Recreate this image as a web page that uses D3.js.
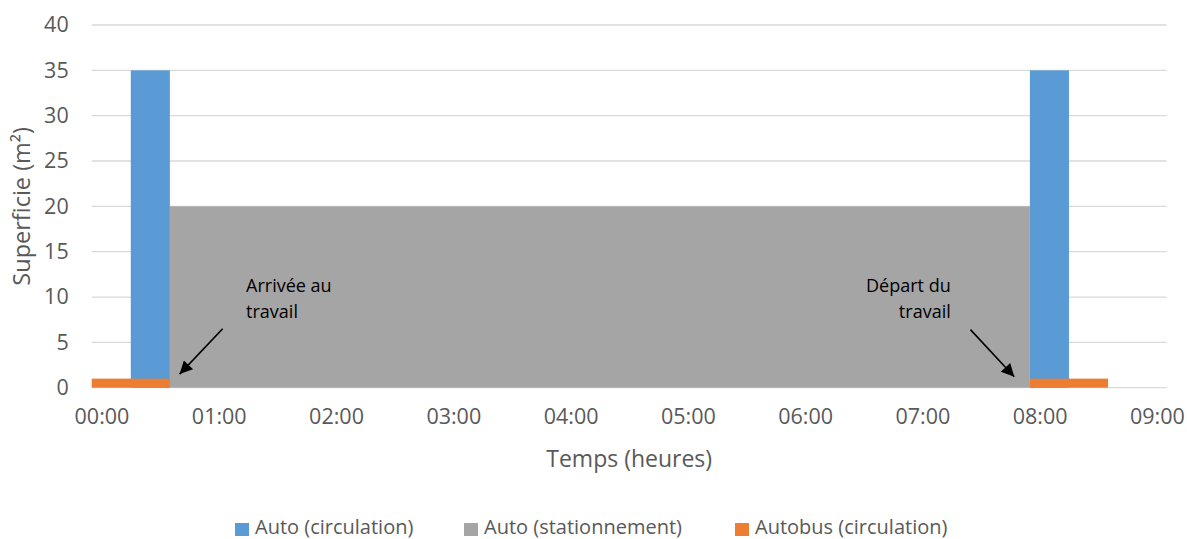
<!DOCTYPE html>
<html>
<head>
<meta charset="utf-8">
<script src="https://cdn.jsdelivr.net/npm/d3@7"></script>
<style>
  html, body { margin: 0; padding: 0; background: #ffffff; }
  svg { display: block; font-family: "Open Sans", sans-serif; }
</style>
</head>
<body>
<svg id="chart" width="1187" height="539"></svg>
<script>
// Time is counted in minutes; every series is built from 10-minute slots,
// each slot centred on its time stamp.
const slotMinutes = 10;

const seriesNames = ["Auto (circulation)", "Auto (stationnement)", "Autobus (circulation)"];
const seriesColors = ["#5B9BD5", "#A5A5A5", "#ED7D31"];

// Runs of consecutive slots: first slot, last slot, surface (m²)
const autoCirculation = [
  { from: "00:20", to: "00:30", value: 35 },
  { from: "08:00", to: "08:10", value: 35 }
];
const autoStationnement = [
  { from: "00:40", to: "07:50", value: 20 }
];
const autobusCirculation = [
  { from: "00:00", to: "00:30", value: 1 },
  { from: "08:00", to: "08:30", value: 1 }
];

const xTickLabels = ["00:00", "01:00", "02:00", "03:00", "04:00", "05:00", "06:00", "07:00", "08:00", "09:00"];
const yTicks = [0, 5, 10, 15, 20, 25, 30, 35, 40];

// Annotations: text lines and arrow (from -> to) in time / surface units
const annotations = [
  { lines: ["Arrivée au", "travail"], at: "01:14", value: 11.2, anchor: "start",
    arrowFrom: ["01:02", 6.5], arrowTo: ["00:40", 1.5] },
  { lines: ["Départ du", "travail"], at: "07:14.5", value: 11.2, anchor: "end",
    arrowFrom: ["07:24.6", 6.4], arrowTo: ["07:47", 1.2] }
];

const toMin = s => { const [h, m] = s.split(":").map(Number); return h * 60 + m; };

const svg = d3.select("#chart");
const plot = { left: 91.7, right: 1166.7, top: 25, bottom: 387.7 };

const x = d3.scaleLinear()
  .domain([-slotMinutes / 2, toMin("09:00") + slotMinutes / 2])
  .range([plot.left, plot.right]);
const y = d3.scaleLinear().domain([0, 40]).range([plot.bottom, plot.top]);

const textColor = "#595959";
const tickFont = 21.5;

// Horizontal gridlines
svg.append("g").selectAll("line").data(yTicks).join("line")
  .attr("x1", plot.left).attr("x2", plot.right)
  .attr("y1", d => y(d)).attr("y2", d => y(d))
  .attr("stroke", "#D9D9D9").attr("stroke-width", 1.3);

// Y axis labels
const yAxis = d3.axisLeft(y).tickValues(yTicks).tickSize(0).tickPadding(23);
svg.append("g").attr("transform", `translate(${plot.left},0)`).call(yAxis)
  .call(g => g.select(".domain").remove())
  .call(g => g.selectAll("text").attr("fill", textColor)
    .attr("font-family", "Open Sans").attr("font-size", tickFont));

// X axis labels
const xAxis = d3.axisBottom(x).tickValues(xTickLabels.map(toMin))
  .tickFormat((d, i) => xTickLabels[i]).tickSize(0).tickPadding(21);
svg.append("g").attr("transform", `translate(0,${plot.bottom})`).call(xAxis)
  .call(g => g.select(".domain").remove())
  .call(g => g.selectAll("text").attr("fill", textColor)
    .attr("font-family", "Open Sans").attr("font-size", tickFont));

// Bars: each run covers its slots from half a slot before the first to half a slot after the last
function drawRuns(runs, color) {
  svg.append("g").selectAll("rect").data(runs).join("rect")
    .attr("x", d => x(toMin(d.from) - slotMinutes / 2))
    .attr("width", d => x(toMin(d.to) + slotMinutes / 2) - x(toMin(d.from) - slotMinutes / 2))
    .attr("y", d => y(d.value))
    .attr("height", d => y(0) - y(d.value))
    .attr("fill", color);
}
drawRuns(autoStationnement, seriesColors[1]);
drawRuns(autoCirculation, seriesColors[0]);
drawRuns(autobusCirculation, seriesColors[2]);

// Annotations with arrows
svg.append("defs").append("marker")
  .attr("id", "arrowhead").attr("viewBox", "0 0 10 10")
  .attr("refX", 10).attr("refY", 5)
  .attr("markerWidth", 9.5).attr("markerHeight", 8)
  .attr("markerUnits", "strokeWidth")
  .attr("orient", "auto")
  .append("path").attr("d", "M0,0 L10,5 L0,10 z").attr("fill", "#000");

annotations.forEach(a => {
  const t = svg.append("text")
    .attr("x", x(toMin(a.at))).attr("y", y(a.value))
    .attr("text-anchor", a.anchor)
    .attr("font-family", "Open Sans").attr("font-size", 18).attr("fill", "#000");
  a.lines.forEach((line, i) => {
    t.append("tspan").attr("x", x(toMin(a.at))).attr("dy", i === 0 ? "0.35em" : 25.7).text(line);
  });
  svg.append("line")
    .attr("x1", x(toMin(a.arrowFrom[0]))).attr("y1", y(a.arrowFrom[1]))
    .attr("x2", x(toMin(a.arrowTo[0]))).attr("y2", y(a.arrowTo[1]))
    .attr("stroke", "#000").attr("stroke-width", 1.6)
    .attr("marker-end", "url(#arrowhead)");
});

// Axis titles
svg.append("text")
  .attr("x", (plot.left + plot.right) / 2).attr("y", 459).attr("dy", "0.35em")
  .attr("text-anchor", "middle").attr("fill", textColor)
  .attr("font-size", 23).text("Temps (heures)");

svg.append("text")
  .attr("transform", `translate(22,${(plot.top + plot.bottom) / 2}) rotate(-90)`)
  .attr("dy", "0.35em")
  .attr("text-anchor", "middle").attr("fill", textColor)
  .attr("font-size", 23.5).text("Superficie (m²)");

// Legend
const legendX = [235, 464, 735];
const legend = svg.append("g").selectAll("g").data(seriesNames).join("g")
  .attr("transform", (d, i) => `translate(${legendX[i]},523)`);
legend.append("rect").attr("width", 14).attr("height", 13)
  .attr("fill", (d, i) => seriesColors[i]);
legend.append("text").attr("x", 20).attr("y", 4).attr("dy", "0.35em")
  .attr("fill", textColor).attr("font-size", 20).text(d => d);
</script>
</body>
</html>
